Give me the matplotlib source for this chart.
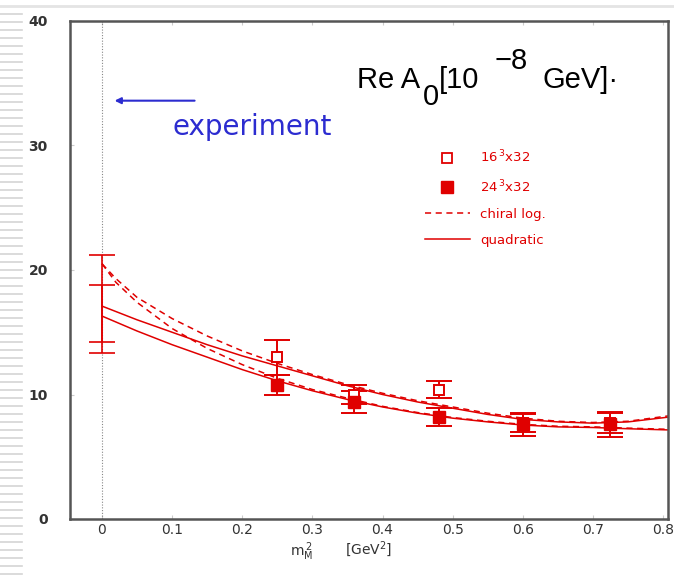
import matplotlib
matplotlib.use("Agg")
import matplotlib.pyplot as plt
from matplotlib.lines import Line2D

# ---- data ----
mass_points = [0.25, 0.36, 0.48, 0.60, 0.725]
a0_16 = [13.0, 10.0, 10.4, 7.7, 7.7]
err_16 = [1.4, 0.8, 0.7, 0.7, 0.8]
a0_24 = [10.8, 9.4, 8.2, 7.6, 7.6]
err_24 = [0.8, 0.9, 0.7, 0.9, 1.0]

extrap_x = [0.0, 0.0]
extrap_y = [17.25, 16.5]
extrap_err = [3.95, 2.3]

curve_x = [0.0, 0.05, 0.1, 0.15, 0.2, 0.25, 0.3, 0.35, 0.4, 0.45, 0.5,
           0.55, 0.6, 0.65, 0.7, 0.75, 0.81]
quad_16 = [17.1, 16.0, 15.0, 14.0, 13.1, 12.3, 11.5, 10.7, 10.0, 9.4, 8.9,
           8.4, 8.0, 7.8, 7.7, 7.8, 8.2]
quad_24 = [16.3, 15.1, 14.0, 13.0, 12.0, 11.1, 10.3, 9.6, 9.0, 8.5, 8.1,
           7.8, 7.55, 7.4, 7.35, 7.25, 7.15]
clog_x = [0.0, 0.02, 0.05, 0.1, 0.15, 0.2, 0.25, 0.3, 0.35, 0.4, 0.45, 0.5,
          0.55, 0.6, 0.65, 0.7, 0.75, 0.81]
clog_16 = [20.5, 19.3, 17.8, 16.1, 14.7, 13.5, 12.5, 11.6, 10.8, 10.1, 9.5,
           9.0, 8.5, 8.1, 7.85, 7.75, 7.85, 8.3]
clog_24 = [20.5, 19.0, 17.4, 15.3, 13.7, 12.4, 11.3, 10.4, 9.7, 9.05, 8.55,
           8.15, 7.85, 7.6, 7.45, 7.4, 7.3, 7.2]

x_ticks = [0, 0.1, 0.2, 0.3, 0.4, 0.5, 0.6, 0.7, 0.8]
x_tick_labels = ["0", "0.1", "0.2", "0.3", "0.4", "0.5", "0.6", "0.7", "0.8"]
y_ticks = [0, 10, 20, 30, 40]
y_tick_labels = ["0", "10", "20", "30", "40"]

RED = "#e00000"
BLUE = "#2c2cd0"
TITLE_FONT = "Liberation Sans"

W, H = 674, 578
fig = plt.figure(figsize=(W / 100, H / 100), dpi=100)
fig.patch.set_facecolor("white")

def fx(px):
    return px / W

def fy(py):
    return 1 - py / H

ax = fig.add_axes([fx(70), fy(519), fx(668) - fx(70), fy(21) - fy(519)])
ax.set_xlim(-0.0456, 0.807)
ax.set_ylim(0, 40)

# slide decoration: striped left margin and top rule
for k in range(0, 72):
    yy = 14 + k * 8
    fig.add_artist(Line2D([0, fx(22)], [fy(yy), fy(yy)], color="#d4d4d4", lw=1.2,
                          transform=fig.transFigure))
fig.add_artist(Line2D([0, 1], [fy(6), fy(6)], color="#e4e4e4", lw=2,
                      transform=fig.transFigure))

# vertical dotted line at m^2 = 0
ax.axvline(0, color="#888888", lw=0.8, ls=(0, (1, 1.5)))

# fit curves
ax.plot(curve_x, quad_16, color=RED, lw=1.1)
ax.plot(curve_x, quad_24, color=RED, lw=1.1)
ax.plot(clog_x, clog_16, color=RED, lw=1.1, ls=(0, (4, 3)))
ax.plot(clog_x, clog_24, color=RED, lw=1.1, ls=(0, (4, 3)))

# extrapolated values at zero
ax.errorbar(extrap_x, extrap_y, yerr=extrap_err, fmt="none", ecolor=RED,
            elinewidth=1.2, capsize=9.5, capthick=1.2)

# data
ax.errorbar(mass_points, a0_16, yerr=err_16, fmt="s", ms=7, mfc="white",
            mec=RED, mew=1.4, ecolor=RED, elinewidth=1.4, capsize=9.5,
            capthick=1.4)
ax.errorbar(mass_points, a0_24, yerr=err_24, fmt="s", ms=8, mfc=RED,
            mec=RED, ecolor=RED, elinewidth=1.4, capsize=9.5, capthick=1.4)

# axes styling
for sp in ax.spines.values():
    sp.set_color("#555555")
    sp.set_linewidth(1.8)
ax.set_xticks(x_ticks)
ax.set_xticklabels(x_tick_labels)
ax.set_yticks(y_ticks)
ax.set_yticklabels(y_tick_labels)
ax.tick_params(axis="both", direction="in", length=3, color="#cccccc",
               top=True, right=False, labelsize=10, labelcolor="#333333")
ax.tick_params(axis="y", pad=16)
ax.tick_params(axis="x", pad=3)
for lab in ax.get_yticklabels():
    lab.set_fontweight("bold")

# x label
fig.text(fx(302), fy(552), r"m$_{\rm M}^{\,2}$", ha="center", va="center",
         fontsize=10, color="#333333")
fig.text(fx(369), fy(549), r"[GeV$^{2}$]", ha="center", va="center",
         fontsize=10, color="#333333")

# title pieces
tkw = dict(color="black", fontsize=21, va="baseline", family=TITLE_FONT)
fig.text(fx(357), fy(88), "Re A", **tkw)
fig.text(fx(423), fy(105), "0", **tkw)
fig.text(fx(439), fy(88), "[10", **tkw)
fig.text(fx(495), fy(69), "\u22128", **tkw)
fig.text(fx(543), fy(88), "GeV]\u00b7", **tkw)

# experiment arrow and label
ax.annotate("", xy=(0.014, 33.6), xytext=(0.136, 33.6),
            arrowprops=dict(arrowstyle="-|>", color=BLUE, lw=1.5,
                            mutation_scale=9))
fig.text(fx(172), fy(127), "experiment", color=BLUE, fontsize=20,
         va="center", ha="left")

# legend
handles = [
    Line2D([], [], ls="none", marker="s", ms=7, mfc="white", mec=RED, mew=1.3),
    Line2D([], [], ls="none", marker="s", ms=8, mfc=RED, mec=RED),
    Line2D([], [], color=RED, lw=1.1, ls=(0, (4, 3))),
    Line2D([], [], color=RED, lw=1.1),
]
labels = [r"16$^{\,3}$x32", r"24$^{\,3}$x32", "chiral log.", "quadratic"]
ax_w = fx(668) - fx(70)
ax_h = fy(21) - fy(519)
leg = ax.legend(handles, labels, loc="upper left",
                bbox_to_anchor=((fx(425) - fx(70)) / ax_w, (fy(149) - fy(519)) / ax_h),
                frameon=False, fontsize=9.5, labelcolor=RED, borderaxespad=0,
                borderpad=0, handlelength=3.4, handletextpad=0.8,
                labelspacing=0.97)

fig.savefig("out.png", dpi=100)
